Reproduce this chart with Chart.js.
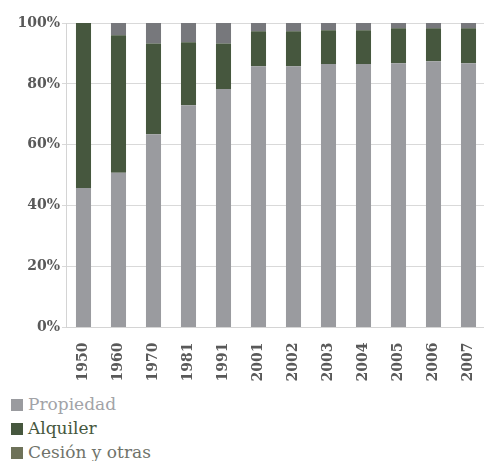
<!DOCTYPE html>
<html>
<head>
<meta charset="utf-8">
<script src="https://cdn.jsdelivr.net/npm/chart.js@4.4.1/dist/chart.umd.min.js"></script>
<style>
  html, body { margin: 0; padding: 0; background: #fff; overflow: hidden; }
  #wrap { position: relative; width: 490px; height: 392px; }
  #legend { position: absolute; left: 11px; top: 392px; font-family: "DejaVu Serif", serif; font-size: 17px; }
  #legend div { height: 24px; line-height: 24px; white-space: nowrap; }
  #legend span.box { display: inline-block; width: 12px; height: 12px; margin-right: 5px; vertical-align: -1px; }
</style>
</head>
<body>
<div id="wrap"><canvas id="barChart" width="490" height="392"></canvas></div>
<div id="legend"></div>
<script>
// categories and series (% of dwellings by tenure)
let years = ['1950', '1960', '1970', '1981', '1991', '2001', '2002', '2003', '2004', '2005', '2006', '2007'];
let seriesNames = ['Propiedad', 'Alquiler', 'Cesión y otras'];
let propiedad = [45.8, 50.8, 63.5, 73.0, 78.3, 85.8, 85.8, 86.5, 86.5, 86.8, 87.4, 86.8];
let alquiler = [54.2, 45.2, 29.8, 20.7, 15.0, 11.5, 11.5, 11.1, 11.1, 11.5, 10.9, 11.5];
let cesion = [0, 4.0, 6.7, 6.3, 6.7, 2.7, 2.7, 2.4, 2.4, 1.7, 1.7, 1.7];
let yTicks = [0, 20, 40, 60, 80, 100];

let barColors = ['#9a9b9f', '#46573e', '#77787c'];
let legendBoxColors = ['#9a9b9f', '#46573e', '#6e7259'];
let legendTextColors = ['#a2a3a7', '#46573e', '#70736a'];

let font = 'DejaVu Serif';

let data = {
	labels: years,
	datasets: [propiedad, alquiler, cesion].map(function (vals, i) {
		return {
			label: seriesNames[i],
			data: vals,
			backgroundColor: barColors[i],
			categoryPercentage: 1,
			barPercentage: 0.43
		};
	})
};

let options = {
	responsive: false,
	animation: false,
	layout: { padding: { left: 4, right: 4, top: 23, bottom: 0 } },
	plugins: { legend: { display: false }, tooltip: { enabled: false } },
	scales: {
		x: {
			stacked: true,
			grid: { display: false, drawTicks: false },
			border: { display: true, color: '#d4d4d4', width: 1 },
			ticks: {
				minRotation: 90,
				maxRotation: 90,
				padding: 15,
				color: '#595959',
				font: { family: font, size: 14, weight: 'bold' }
			},
			afterFit: function (s) {
				s.height = 64.5;
				s.paddingLeft = 0;
				s.paddingRight = 0;
			}
		},
		y: {
			stacked: true,
			min: 0,
			max: 100,
			afterBuildTicks: function (s) { s.ticks = yTicks.map(function (v) { return { value: v }; }); },
			grid: { color: '#d9d9d9', tickLength: 4, lineWidth: 1 },
			border: { display: true, color: '#d4d4d4', width: 1 },
			ticks: {
				padding: 2,
				color: '#595959',
				font: { family: font, size: 14, weight: 'bold' },
				callback: function (v) { return v + '%'; }
			},
			afterFit: function (s) { s.width = 62; }
		}
	}
};

let chart = new Chart('barChart', { type: 'bar', data: data, options: options });

// stacked legend under the chart
let legend = document.getElementById('legend');
chart.data.datasets.forEach(function (ds, i) {
	let row = document.createElement('div');
	row.style.color = legendTextColors[i];
	let box = document.createElement('span');
	box.className = 'box';
	box.style.background = legendBoxColors[i];
	row.appendChild(box);
	row.appendChild(document.createTextNode(ds.label));
	legend.appendChild(row);
});
</script>
</body>
</html>
